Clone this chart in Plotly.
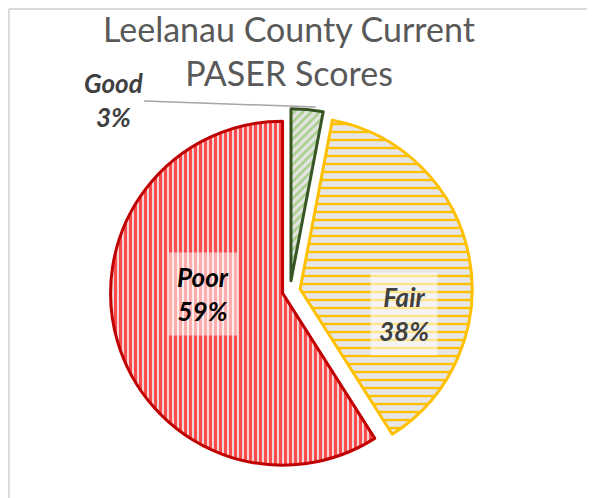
import plotly.graph_objects as go

# ---- data ----
categories = ["Good", "Fair", "Poor"]
scores = [3, 38, 59]
title_text = "Leelanau County Current<br>PASER Scores"

# ---- styles ----
W, H = 595, 498
OFF = 8  # page body margin offset (px)
stripe_colors = ["#A9D18E", "#FFC000", "#FF4B4B"]
bg_colors = ["#E4E4E4", "#E6E6E6", "#F0D6D6"]
border_colors = ["#375623", "#FFC000", "#C00000"]
shapes_ = ["/", "-", "|"]
sizes = [6, 8, 5]
solid = [0.45, 0.3, 0.6]
text_colors = {"Good": "#404040", "Fair": "#404040", "Poor": "#000000"}
pulls = [0.06, 0.06, 0.045]
FONT = "Lato, Open Sans, sans-serif"


def px_x(x):
    return (x - OFF) / W


def px_y(y):
    return 1 - (y - OFF) / H


# pie box in pixels
cx, cy, half = 290, 291, 182.3
dom_x = [px_x(cx - half), px_x(cx + half)]
dom_y = [px_y(cy + half), px_y(cy - half)]

fig = go.Figure(go.Pie(
    labels=categories,
    values=scores,
    sort=False,
    direction="clockwise",
    rotation=0,
    pull=pulls,
    domain=dict(x=dom_x, y=dom_y),
    marker=dict(
        colors=stripe_colors,
        line=dict(color=border_colors, width=3),
        pattern=dict(shape=shapes_, fgcolor=stripe_colors, bgcolor=bg_colors,
                     size=sizes, solidity=solid, fillmode="replace"),
    ),
    textinfo="none",
    hoverinfo="label+percent",
    showlegend=False,
))

total = sum(scores)
pct = {c: round(100 * v / total) for c, v in zip(categories, scores)}

# data labels (Excel-style placement)
label_pos = {"Poor": (203, 294), "Fair": (404, 314)}
for c, (lx, ly) in label_pos.items():
    fig.add_annotation(
        text=f"<b><i>{c}<br>{pct[c]}%</i></b>",
        xref="paper", yref="paper", x=px_x(lx), y=px_y(ly),
        xanchor="center", yanchor="middle",
        showarrow=False, bgcolor="rgba(255,255,255,0.55)", borderpad=8,
        font=dict(family=FONT, size=26, color=text_colors[c]),
    )

fig.add_annotation(
    text=f"<b><i>{categories[0]}<br>{pct[categories[0]]}%</i></b>",
    xref="paper", yref="paper",
    x=px_x(316), y=px_y(107),
    axref="pixel", ayref="pixel",
    ax=113 - 316, ay=100 - 107,
    showarrow=True, arrowhead=0, arrowwidth=1.5, arrowcolor="#A6A6A6",
    font=dict(family=FONT, size=26, color=text_colors["Good"]),
)

# chart frame (top and left edges visible)
fig.add_shape(type="line", xref="paper", yref="paper",
              x0=0.0015, x1=1, y0=0.998, y1=0.998,
              line=dict(color="#D9D9D9", width=2))
fig.add_shape(type="line", xref="paper", yref="paper",
              x0=0.0015, x1=0.0015, y0=0, y1=0.998,
              line=dict(color="#D9D9D9", width=2))

fig.update_layout(
    width=W, height=H,
    margin=dict(l=0, r=0, t=0, b=0),
    paper_bgcolor="white",
    plot_bgcolor="white",
    title=dict(text=title_text, x=px_x(289), xanchor="center", xref="paper",
               y=1 - 34 / H, yanchor="top", yref="container",
               font=dict(family=FONT, size=34, color="#595959")),
)

fig.write_html("out.html")
